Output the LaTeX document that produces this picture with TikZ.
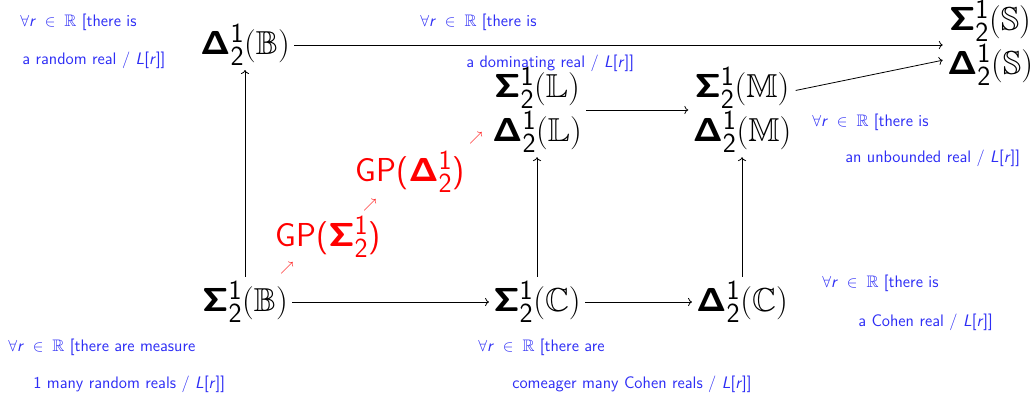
\documentclass[tikz,border=0pt]{standalone}
\usepackage{amsmath,amssymb}
\usepackage{tikz}
\usetikzlibrary{arrows.meta}
\usepackage{xcolor}
\definecolor{noteblue}{RGB}{45,45,245}
\newcommand{\bSig}{\mbox{\fontencoding{OT1}\fontfamily{cmss}\fontseries{bx}\selectfont\char6}}
\newcommand{\bDel}{\mbox{\fontencoding{OT1}\fontfamily{cmss}\fontseries{bx}\selectfont\char1}}
\newcommand{\Sg}[1]{$\bSig^{\mathsf{1}}_{\mathsf{2}}(\mathbb{#1})$}
\newcommand{\Dl}[1]{$\bDel^{\mathsf{1}}_{\mathsf{2}}(\mathbb{#1})$}
\newcommand{\allr}{$\forall\mbox{\textit{r}}\;\in\;\mathbb{R}$ [there}
\newcommand{\Lr}{\textit{L}[\textit{r}]]}

\begin{document}
\begin{tikzpicture}[x=0.75pt, y=-0.75pt,
    obj/.style={font=\Huge, inner sep=3pt},
    stack/.style={obj, align=center},
    gp/.style={text=red, font=\Huge\sffamily, inner sep=0pt},
    tick/.style={text=red, font=\normalsize, inner sep=0pt},
    note/.style={text=noteblue, font=\fontsize{12.5}{15}\selectfont\sffamily, anchor=west, inner sep=0pt},
    arr/.style={-{To}, line width=0.6pt}]
  \useasboundingbox (0,0) rectangle (1036,393);
  % Objects
  \node[obj] (dB) at (245,45) {\Dl{B}};
  \node[obj] (sB) at (245,302) {\Sg{B}};
  \node[obj] (sC) at (537,302) {\Sg{C}};
  \node[obj] (dC) at (742,302) {\Dl{C}};
  \node[stack] (L) at (537,110) {\Sg{L}\\[1pt]\Dl{L}};
  \node[stack] (M) at (742,110) {\Sg{M}\\[1pt]\Dl{M}};
  \node[stack] (S) at (990,43) {\Sg{S}\\[1pt]\Dl{S}};
  % Arrows
  \draw[arr] (dB) -- (dB -| S.west);
  \draw[arr] (M.20) -- (S.200);
  \draw[arr] (L) -- (M);
  \draw[arr] (sB) -- (sC);
  \draw[arr] (sC) -- (dC);
  \draw[arr] (sB) -- (dB);
  \draw[arr] (sC) -- (L);
  \draw[arr] (dC) -- (M);
  % Generic properties (red)
  \node[gp] (gpS) at (328,237) {GP($\bSig^{\mathsf{1}}_{\mathsf{2}}$)};
  \node[gp] (gpD) at (410,172) {GP($\bDel^{\mathsf{1}}_{\mathsf{2}}$)};
  \node[tick] (t1) at (287,268) {$\nearrow$};
  \node[tick] (t2) at (370,205) {$\nearrow$};
  \node[tick] (t3) at (476,138) {$\nearrow$};
  % Characterisations (blue)
  \node[note] (n1a) at (20,22) {\allr\ is};
  \node[note] (n1b) at (22,60) {a random real / \Lr};
  \node[note] (n2a) at (420,22) {\allr\ is};
  \node[note] (n2b) at (466,63) {a dominating real / \Lr};
  \node[note] (n3a) at (812,122) {\allr\ is};
  \node[note] (n3b) at (845,158) {an unbounded real / \Lr};
  \node[note] (n4a) at (822,283) {\allr\ is};
  \node[note] (n4b) at (858,322) {a Cohen real / \Lr};
  \node[note] (n5a) at (8,347) {\allr\ are measure};
  \node[note] (n5b) at (33,384) {1 many random reals / \Lr};
  \node[note] (n6a) at (478,347) {\allr\ are};
  \node[note] (n6b) at (512,384) {comeager many Cohen reals / \Lr};
\end{tikzpicture}
\end{document}
